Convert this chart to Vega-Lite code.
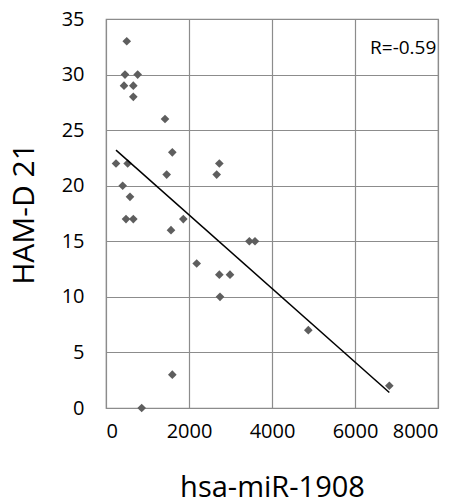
{
  "$schema": "https://vega.github.io/schema/vega-lite/v6.json",
  "width": 332,
  "height": 389,
  "autosize": "none",
  "padding": {"left": 106, "top": 19, "right": 26, "bottom": 95},
  "background": "white",
  "config": {
    "font": "Open Sans",
    "view": {"stroke": "#8c8c8c", "strokeWidth": 1.2}
  },
  "datasets": {
    "pts": [
      {"mir": 500, "ham": 33}, {"mir": 458, "ham": 30}, {"mir": 763, "ham": 30},
      {"mir": 434, "ham": 29}, {"mir": 658, "ham": 29}, {"mir": 658, "ham": 28},
      {"mir": 1422, "ham": 26}, {"mir": 1598, "ham": 23}, {"mir": 241, "ham": 22},
      {"mir": 522, "ham": 22}, {"mir": 2731, "ham": 22}, {"mir": 1462, "ham": 21},
      {"mir": 2667, "ham": 21}, {"mir": 402, "ham": 20}, {"mir": 578, "ham": 19},
      {"mir": 482, "ham": 17}, {"mir": 658, "ham": 17}, {"mir": 1863, "ham": 17},
      {"mir": 1566, "ham": 16}, {"mir": 3454, "ham": 15}, {"mir": 3590, "ham": 15},
      {"mir": 2185, "ham": 13}, {"mir": 2731, "ham": 12}, {"mir": 2988, "ham": 12},
      {"mir": 2747, "ham": 10}, {"mir": 4875, "ham": 7}, {"mir": 1598, "ham": 3},
      {"mir": 860, "ham": 0}, {"mir": 6827, "ham": 2}
    ],
    "fit": [
      {"mir": 241, "ham": 23.2},
      {"mir": 6827, "ham": 1.4}
    ],
    "label": [
      {"mir": 7960, "ham": 32.4, "txt": "R=-0.59"}
    ]
  },
  "layer": [
    {
      "data": {"name": "pts"},
      "mark": {"type": "point", "shape": "diamond", "filled": true, "color": "#5e5e5e", "opacity": 1, "size": 75},
      "encoding": {
        "x": {
          "field": "mir", "type": "quantitative",
          "scale": {"domain": [0, 8000], "nice": false},
          "axis": {
            "values": [0, 2000, 4000, 6000, 8000],
            "format": "d",
            "title": "hsa-miR-1908",
            "titleFont": "Open Sans", "titleFontSize": 29, "titleFontWeight": "normal", "titleColor": "#000",
            "titlePadding": 32,
            "labelFont": "Open Sans", "labelFontSize": 20, "labelColor": "#000", "labelPadding": 13,
            "ticks": false, "domainColor": "#8c8c8c",
            "grid": true, "gridColor": "#8c8c8c", "gridWidth": 1.2
          }
        },
        "y": {
          "field": "ham", "type": "quantitative",
          "scale": {"domain": [0, 35], "nice": false},
          "axis": {
            "values": [0, 5, 10, 15, 20, 25, 30, 35],
            "title": "HAM-D 21",
            "titleFont": "Open Sans", "titleFontSize": 30, "titleFontWeight": "normal", "titleColor": "#000",
            "titlePadding": 22,
            "labelFont": "Open Sans", "labelFontSize": 20, "labelColor": "#000", "labelPadding": 22,
            "ticks": false, "domainColor": "#8c8c8c",
            "grid": true, "gridColor": "#8c8c8c", "gridWidth": 1.2
          }
        }
      }
    },
    {
      "data": {"name": "fit"},
      "mark": {"type": "line", "color": "#000", "strokeWidth": 1.5},
      "encoding": {
        "x": {"field": "mir", "type": "quantitative"},
        "y": {"field": "ham", "type": "quantitative"}
      }
    },
    {
      "data": {"name": "label"},
      "mark": {"type": "text", "align": "right", "baseline": "middle", "font": "Open Sans", "fontSize": 19, "color": "#000"},
      "encoding": {
        "x": {"field": "mir", "type": "quantitative"},
        "y": {"field": "ham", "type": "quantitative"},
        "text": {"field": "txt"}
      }
    }
  ]
}
